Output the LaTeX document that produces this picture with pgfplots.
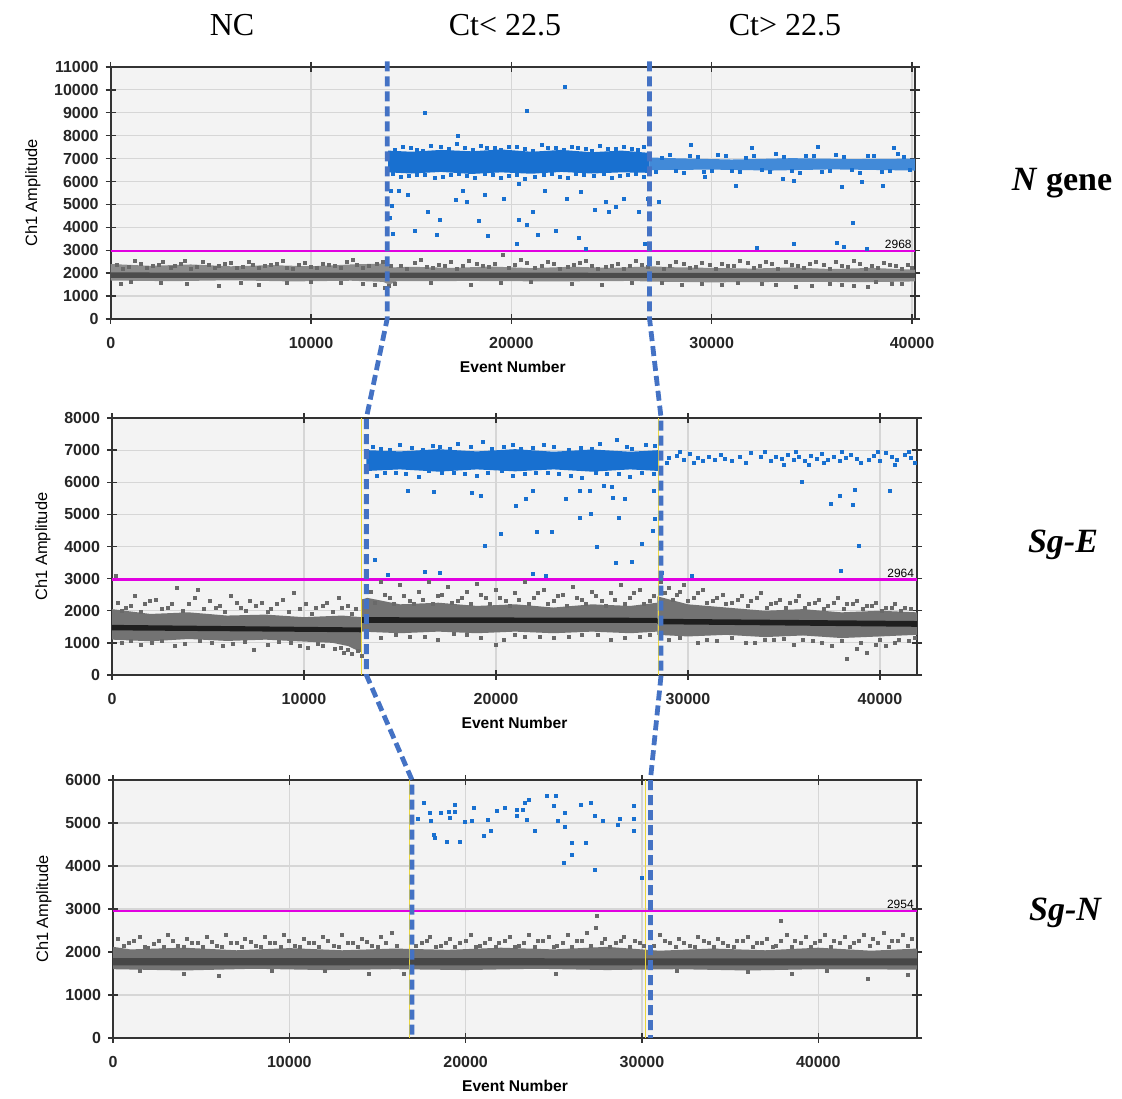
\documentclass[border=0pt]{standalone}
\usepackage{fontspec}
\setmainfont{Liberation Serif}
\newfontfamily\lsans{Liberation Sans}
\usepackage{pgfplots}
\pgfplotsset{compat=1.18}

\definecolor{dropblue}{RGB}{24,112,208}
\definecolor{dropgray}{RGB}{105,105,105}
\definecolor{thr}{RGB}{225,0,225}
\definecolor{cutblue}{RGB}{68,114,196}
\definecolor{bgc}{RGB}{243,243,243}
\definecolor{gridc}{RGB}{214,214,214}
\definecolor{wellc}{RGB}{235,215,60}

\tikzset{thrlab/.style={anchor=south east,inner sep=1pt,font=\lsans\fontsize{6}{7}\selectfont}}
\pgfplotsset{
  ddpcr/.style={
    scale only axis, anchor=south west,
    axis background/.style={fill=bgc},
    grid=major, grid style={gridc,line width=0.6pt},
    axis line style={black!80,line width=0.8pt},
    tick style={black!80,line width=0.7pt},
    major tick length=5pt, tick align=center,
    xmin=0, ymin=0,
    xtick distance=10000, ytick distance=1000,
    scaled ticks=false,
    /pgf/number format/assume math mode=true,
    /pgf/number format/1000 sep={},
    tick label style={font=\lsans\bfseries\fontsize{8}{9}\selectfont,text=black!85},
    xticklabel style={yshift=-3pt},
    xlabel={Event Number}, ylabel={Ch1 Amplitude},
    xlabel style={font=\lsans\bfseries\fontsize{7.8}{9}\selectfont,yshift=0.5pt},
    ylabel style={font=\lsans\fontsize{8.2}{10}\selectfont},
  },
  dots/.style={only marks,mark=square*,mark size=0.75pt,color=#1},
}

\begin{document}
\begin{tikzpicture}
\path (0,0) rectangle (561pt,547.5pt);

% ---------- N gene ----------
\begin{axis}[ddpcr, name=p1, at={(55.35pt,388pt)},
  width=402.15pt, height=126pt, xmax=40150, ymax=11000]
\addplot[draw=none,fill=black!45] coordinates {
  (0,1680) (3000,1650) (6000,1690) (9000,1640) (12000,1670) (13600,1620)
  (13900,1500) (14300,1650) (18000,1660) (22000,1640) (26000,1660) (27000,1630)
  (30000,1600) (34000,1620) (38000,1610) (40150,1640)
  (40150,2150) (38000,2230) (36000,2180) (34000,2250) (32000,2200) (30000,2230)
  (28000,2260) (27000,2300) (25000,2230) (23000,2280) (21000,2220) (19000,2290)
  (17000,2230) (15000,2280) (14000,2250) (13600,2420) (12000,2380) (10000,2300)
  (8000,2350) (6000,2300) (4000,2380) (2000,2320) (0,2400)};
\addplot[draw=none,fill=black!70] coordinates {
  (0,1790) (40150,1790) (40150,2010) (0,2030)};
\addplot[dots=dropgray] coordinates {
  (300,2350) (900,2280) (1500,2420) (2100,2300) (2600,2480) (3200,2330)
  (3700,2550) (4300,2260) (4900,2380) (5400,2300) (6000,2450) (6600,2270)
  (7100,2360) (7700,2300) (8300,2420) (8800,2250) (9400,2340) (10000,2290)
  (10600,2400) (11200,2330) (11800,2480) (12300,2380) (12900,2300) (13300,2420)
  (14500,2320) (15200,2430) (15800,2290) (16400,2380) (17000,2470) (17600,2300)
  (18300,2400) (18900,2260) (19600,2790) (20200,2350) (20800,2440) (21500,2300)
  (22100,2390) (22800,2280) (23400,2430) (24000,2330) (24700,2260) (25300,2420)
  (25900,2310) (26500,2380) (27300,2440) (27900,2330) (28600,2400) (29200,2280)
  (29900,2360) (30500,2420) (31100,2300) (31800,2450) (32400,2330) (33000,2390)
  (33700,2500) (34300,2300) (34900,2420) (35600,2340) (36200,2470) (36800,2290)
  (37400,2400) (38000,2330) (38600,2440) (39200,2300) (39800,2380)
  (600,2200) (1200,2550) (1800,2230) (2400,2380) (3000,2250) (3500,2420)
  (4000,2200) (4600,2500) (5200,2230) (5700,2400) (6300,2210) (6900,2500)
  (7400,2240) (8000,2380) (8600,2520) (9100,2200) (9700,2450) (10300,2220)
  (10900,2350) (11500,2250) (12100,2560) (12600,2230) (13600,2500) (14000,2300)
  (14800,2200) (15500,2560) (16100,2230) (16700,2300) (17300,2200) (17900,2550)
  (18600,2300) (19200,2420) (19900,2210) (20500,2560) (21200,2230) (21800,2500)
  (22400,2200) (23100,2350) (23700,2540) (24300,2200) (25000,2300) (25600,2200)
  (26200,2520) (26800,2260) (27600,2200) (28200,2500) (28900,2220) (29500,2450)
  (30200,2200) (30800,2300) (31400,2520) (32100,2210) (32700,2480) (33300,2200)
  (34000,2350) (34600,2230) (35200,2500) (35900,2200) (36500,2300) (37100,2550)
  (37700,2200) (38300,2250) (38900,2350) (39500,2200) (40000,2250)
  (1000,1600) (5400,1450) (8800,1580) (12600,1520) (13200,1480) (14200,1550)
  (21000,1600) (26000,1580) (29500,1530) (30500,1500) (31300,1560) (33200,1490)
  (34200,1400) (35900,1540) (37100,1450) (38200,1600) (39500,1550)
  (500,1550) (2500,1580) (3800,1520) (6500,1560) (7400,1500) (10000,1600)
  (11500,1560) (13700,1350) (13900,1450) (16000,1560) (18000,1500) (19500,1580)
  (23000,1550) (24500,1500) (27500,1560) (28500,1500) (32500,1530) (35000,1450)
  (36500,1500) (37800,1400) (39000,1520)};
\addplot[draw=none,fill=dropblue] coordinates {
  (13850,6400) (15000,6350) (16500,6420) (18000,6330) (19500,6400) (21000,6340)
  (22500,6420) (24000,6350) (25500,6400) (26900,6380)
  (26900,7250) (25500,7350) (24000,7280) (22500,7380) (21000,7300) (19500,7400)
  (18000,7320) (16500,7380) (15000,7300) (13850,7350)};
\addplot[draw=none,fill=dropblue!82] coordinates {
  (26900,6500) (30000,6520) (33000,6480) (36000,6530) (40150,6480)
  (40150,7000) (37000,6980) (34000,7020) (31000,6960) (28000,7020) (26900,7050)};
\addplot[dots=dropblue] coordinates {
  (14200,7400) (15000,7450) (15600,7350) (16500,7500) (17300,7650) (18100,7380)
  (18800,7450) (19500,7400) (20300,7500) (21100,7350) (21800,7450) (22600,7400)
  (23300,7480) (24000,7350) (24800,7420) (25600,7500) (26300,7380)
  (14600,7520) (15300,7380) (16000,7550) (16900,7420) (17700,7480) (18500,7560)
  (19200,7450) (19900,7520) (20700,7420) (21500,7580) (22200,7460) (23000,7530)
  (23700,7420) (24400,7560) (25200,7440) (26000,7420) (26600,7500)
  (14100,6350) (14900,6250) (15700,6300) (16600,6200) (17400,6350) (18200,6150)
  (19100,6300) (19900,6250) (20700,6100) (21600,6300) (22400,6200) (23200,6350)
  (24100,6250) (25000,6150) (25800,6300) (26600,6200)
  (14500,6200) (15300,6300) (16200,6150) (17000,6280) (17800,6230) (18700,6320)
  (19500,6150) (20300,6280) (21200,6200) (22000,6330) (22800,6180) (23600,6280)
  (24600,6320) (25400,6230) (26200,6340)
  (27500,7050) (28200,6450) (28900,7100) (29600,6400) (30300,7150) (31000,6450)
  (31700,7050) (32500,6500) (33200,7200) (34000,6450) (34700,7100) (35500,6400)
  (36200,7150) (37000,6500) (37800,7100) (38500,6400) (39300,7200) (39900,6500)
  (27200,6420) (27900,7150) (28600,6380) (29300,7080) (30000,6460) (30700,7100)
  (31400,6400) (32100,7120) (32900,6420) (33600,7060) (34400,6380) (35100,7140)
  (35900,6460) (36600,7080) (37400,6380) (38100,7140) (38900,6460) (39600,7080)
  (22660,10140) (15680,9000) (20800,9070) (17340,8010) (28970,7610) (32000,7470)
  (35280,7510) (39100,7470)
  (14000,5600) (14050,4950) (13950,4400) (14100,3700)
  (14400,5570) (14850,5400) (15830,4690) (16270,3690) (15200,3830) (16450,4330)
  (17250,5190) (17600,5610) (17780,5110) (18400,4300) (18850,3610) (18670,5400)
  (19650,5230) (20360,5900) (20360,4330) (20800,4110) (21070,4690) (21340,3690)
  (21690,5570) (22220,3830) (23370,3540) (23730,3050) (22750,5260) (23460,5540)
  (24170,4760) (24710,5110) (24880,4690) (25240,4900) (25600,5260) (26390,4690)
  (26660,3260) (26840,5260) (27370,5110) (31190,5830) (37050,4190) (36520,5760)
  (37500,5970) (38560,5830) (34100,6040) (33570,6110) (29680,6190) (32260,3110)
  (34100,3260) (36250,3330) (36600,3140) (37750,3040) (20270,3260)};
\addplot[thr,line width=1.4pt] coordinates {(0,2968) (40150,2968)};
\node[thrlab] at (axis cs:40100,2968) {2968};
\coordinate (L1t) at (axis cs:13800,11250);
\coordinate (L1b) at (axis cs:13800,0);
\coordinate (R1t) at (axis cs:26900,11250);
\coordinate (R1b) at (axis cs:26900,0);
\end{axis}

% ---------- Sg-E ----------
\begin{axis}[ddpcr, name=p2, at={(56pt,210pt)},
  width=402.5pt, height=128.5pt, xmax=41930, ymax=8000]
\addplot[draw=none,fill=black!55] coordinates {
  (0,1100) (2000,1050) (4000,1120) (6000,1060) (8000,1100) (10000,1040)
  (11500,1000) (12300,900) (13000,700)
  (13000,1800) (12000,1850) (10000,1800) (8000,1880) (6000,1850) (4000,1950)
  (2000,1900) (0,2050)};
\addplot[draw=none,fill=black!55] coordinates {
  (13000,1350) (15000,1300) (17000,1350) (19000,1300) (21000,1350) (23000,1300)
  (25000,1350) (27000,1300) (28400,1350)
  (28400,2250) (27000,2150) (25000,2200) (23000,2100) (21000,2200) (19000,2150)
  (17000,2250) (15000,2200) (13300,2400) (13000,2350)};
\addplot[draw=none,fill=black!55] coordinates {
  (28400,1250) (30000,1200) (32000,1250) (34000,1180) (36000,1230) (38000,1150)
  (40000,1200) (41930,1250)
  (41930,1950) (40000,2000) (38000,1950) (36000,2050) (34000,2000) (32000,2100)
  (30000,2200) (28400,2450)};
\addplot[draw=none,fill=black!88] coordinates {
  (0,1390) (13000,1330) (13000,1480) (0,1560)};
\addplot[draw=none,fill=black!88] coordinates {
  (13000,1620) (28400,1620) (28400,1780) (13000,1800)};
\addplot[draw=none,fill=black!88] coordinates {
  (28400,1580) (41930,1500) (41930,1680) (28400,1750)};
\addplot[dots=dropgray] coordinates {
  (300,2250) (700,2100) (1200,2450) (1700,2200) (2300,2350) (2900,2100)
  (3400,2700) (4000,2200) (4500,2650) (5100,2300) (5600,2150) (6200,2450)
  (6700,2100) (7200,2300) (7800,2250) (8300,2050) (8900,2350) (9500,2550)
  (10100,2200) (10600,2100) (11200,2250) (11800,2400) (12300,2150) (12700,2050)
  (500,2000) (1000,2150) (1500,1950) (2000,2300) (2600,2050) (3100,2200)
  (3700,1980) (4300,2400) (4800,2050) (5400,2100) (5900,1950) (6500,2250)
  (7000,2000) (7500,2150) (8100,1950) (8600,2200) (9200,1950) (9800,2050)
  (10400,1900) (11000,2150) (11500,1950) (12000,2100) (12500,1900)
  (500,1000) (1500,950) (2600,1050) (3800,980) (5200,1000) (5800,900)
  (6900,1020) (7400,780) (8100,950) (9300,1000) (10200,850) (11000,900)
  (11600,800) (12100,700) (12500,650) (12800,750) (13000,600)
  (1000,1050) (2100,1000) (3300,900) (4600,1050) (6300,980) (8700,1040)
  (9800,920) (10700,980) (11900,850) (12300,780)
  (13500,2600) (14000,2900) (14500,2400) (15000,2800) (15500,2300) (16000,2600)
  (16500,2900) (17000,2450) (17500,2750) (18000,2300) (18500,2600) (19000,2850)
  (19500,2400) (20000,2650) (20500,2300) (21000,2550) (21500,2900) (22000,2400)
  (22500,2650) (23000,2300) (23500,2500) (24000,2750) (24500,2350) (25000,2600)
  (25500,2300) (26000,2550) (26500,2800) (27000,2400) (27500,2650) (28000,2300)
  (13700,2250) (14200,2500) (14700,2200) (15200,2450) (15700,2200) (16200,2350)
  (16700,2200) (17200,2500) (17700,2250) (18200,2400) (18700,2200) (19200,2500)
  (19700,2200) (20200,2400) (20700,2150) (21200,2350) (21700,2200) (22200,2550)
  (22700,2200) (23200,2450) (23700,2150) (24200,2400) (24700,2200) (25200,2450)
  (25700,2150) (26200,2350) (26700,2200) (27200,2550) (27700,2200) (28200,2450)
  (14000,1150) (15500,1200) (17000,1100) (18500,1250) (20000,950) (20400,1100)
  (21500,1200) (23000,1150) (24500,1250) (26000,1100) (27500,1200)
  (14800,1250) (16300,1200) (17800,1280) (19200,1150) (21000,1250) (22300,1200)
  (23800,1180) (25300,1260) (26700,1150) (28000,1250)
  (28600,2900) (29000,2700) (29400,2500) (29800,2800) (30300,2400) (30800,2650)
  (31300,2300) (31800,2500) (32300,2250) (32800,2450) (33300,2300) (33800,2550)
  (34300,2200) (34800,2350) (35300,2250) (35800,2450) (36300,2200) (36800,2350)
  (37300,2150) (37800,2400) (38300,2200) (38800,2300) (39300,2150) (39800,2250)
  (40300,2100) (40800,2200) (41300,2100)
  (28800,2550) (29200,2350) (29600,2600) (30000,2300) (30500,2550) (31000,2250)
  (31500,2400) (32000,2200) (32600,2350) (33100,2150) (33600,2400) (34100,2100)
  (34600,2250) (35100,2100) (35600,2300) (36100,2100) (36600,2250) (37100,2050)
  (37600,2250) (38100,2050) (38600,2200) (39100,2050) (39600,2150) (40100,2000)
  (40600,2100) (41100,2000) (41600,2050)
  (29000,1100) (30500,1000) (31500,1050) (33000,1000) (33500,1000) (34500,1100)
  (35500,950) (36500,1050) (37500,900) (38300,500) (38800,800) (39300,700)
  (39800,950) (40300,900) (40800,1000) (41500,1050) (200,3100)
  (29600,1150) (31000,1100) (32300,1150) (34000,1080) (35000,1120) (36000,1100)
  (37000,1000) (38000,1050) (39000,1000) (40000,1080) (41000,1100) (41800,1150)};
\addplot[draw=none,fill=dropblue] coordinates {
  (13250,6350) (15000,6400) (17000,6330) (19000,6400) (21000,6340) (23000,6400)
  (25000,6330) (27000,6400) (28500,6350)
  (28500,7000) (27000,6950) (25000,7020) (23000,6950) (21000,7030) (19000,6960)
  (17000,7030) (15000,6960) (13250,7000)};
\addplot[dots=dropblue] coordinates {
  (14000,7050) (15000,7150) (16200,7000) (17100,7100) (18000,7200) (19300,7260)
  (20400,7100) (21300,7050) (22500,7150) (23800,7000) (25400,7200) (26300,7310)
  (27100,7050) (27800,7150)
  (13600,7100) (14500,7000) (15600,7080) (16700,7120) (17600,7050) (18700,7100)
  (19800,7050) (20900,7150) (21900,7080) (23000,7100) (24400,7080) (25000,7050)
  (26800,7100) (28300,7120)
  (14200,6300) (15300,6250) (16500,6350) (17800,6300) (19000,6200) (20300,6350)
  (21500,6250) (22700,6300) (23900,6200) (25200,6300) (26400,6250) (27600,6300)
  (13800,6200) (14800,6300) (16000,6180) (17200,6280) (18400,6250) (19600,6300)
  (20900,6200) (22100,6280) (23300,6250) (24500,6150) (25800,6250) (27000,6180)
  (28200,6250)
  (28600,6900) (29000,6750) (29400,6820) (29800,6700) (30100,6880) (30500,6760)
  (30800,6650) (31100,6780) (31400,6700) (31900,6730) (32300,6680) (32700,6800)
  (33300,6900) (33800,6780) (34300,6650) (34600,6800) (34900,6720) (35200,6850)
  (35500,6700) (35800,6780) (36100,6650) (36400,6820) (36700,6740) (37000,6880)
  (37300,6700) (37600,6800) (37900,6650) (38200,6760) (38500,6850) (38800,6720)
  (39400,6700) (39700,6820) (40000,6650) (40300,6900) (40600,6780) (40900,6700)
  (41300,6850) (41600,6750) (41800,6600)
  (28900,6600) (29600,6950) (30300,6600) (31700,6850) (33000,6600) (34000,6950)
  (35000,6550) (35600,6950) (36300,6550) (37100,6600) (38000,6950) (39000,6600)
  (39900,6950) (40800,6550) (41500,6950)
  (15410,5740) (16750,5700) (19240,5570) (18740,5670) (21040,5260) (21540,5490)
  (21940,5740) (23630,5490) (24390,5740) (24870,5740) (24390,4880) (24930,5010)
  (25630,5880) (26030,5850) (26070,5520) (26390,4900) (26730,5470) (28260,4850)
  (28180,4490) (28220,5740) (20240,4390) (22140,4460) (22890,4460) (19400,4020)
  (25270,3980) (27620,4080) (26270,3490) (27070,3520) (13710,3590) (16290,3200)
  (17090,3180) (21940,3140) (22590,3090) (14350,3110) (28620,3190) (30220,3090)
  (35910,6010) (37450,5330) (37900,5590) (38600,5290) (38700,5770) (40500,5720)
  (38900,4020) (37960,3250)};
\addplot[wellc,line width=0.6pt] coordinates {(13000,0) (13000,8000)};
\addplot[wellc,line width=0.6pt] coordinates {(28450,0) (28450,8000)};
\addplot[thr,line width=1.4pt] coordinates {(0,2964) (41930,2964)};
\node[thrlab] at (axis cs:41900,2964) {2964};
\coordinate (L2t) at (axis cs:13250,8000);
\coordinate (L2b) at (axis cs:13250,0);
\coordinate (R2t) at (axis cs:28600,8000);
\coordinate (R2b) at (axis cs:28600,0);
\end{axis}

% ---------- Sg-N ----------
\begin{axis}[ddpcr, name=p3, at={(56.5pt,28.5pt)},
  width=402pt, height=129pt, xmax=45600, ymax=6000]
\addplot[draw=none,fill=black!55] coordinates {
  (0,1600) (4000,1570) (8000,1610) (12000,1580) (16000,1600) (20000,1580)
  (24000,1610) (28000,1580) (32000,1600) (36000,1570) (40000,1600) (45600,1590)
  (45600,2080) (43000,2030) (40000,2100) (37000,2040) (34000,2080) (31000,2030)
  (28000,2120) (25000,2060) (22000,2100) (19000,2050) (16000,2080) (13000,2040)
  (10000,2090) (7000,2040) (4000,2100) (1000,2060) (0,2120)};
\addplot[draw=none,fill=black!72] coordinates {
  (0,1690) (45600,1690) (45600,1850) (0,1860)};
\addplot[dots=dropgray] coordinates {
  (300,2300) (900,2200) (1500,2350) (2000,2100) (2600,2250) (3100,2400)
  (3700,2150) (4200,2300) (4800,2200) (5300,2350) (5900,2150) (6400,2400)
  (7000,2200) (7500,2300) (8100,2150) (8600,2350) (9200,2200) (9700,2400)
  (10300,2150) (10800,2300) (11400,2200) (11900,2350) (12500,2150) (13000,2400)
  (13600,2200) (14100,2300) (14700,2150) (15200,2350) (15800,2450) (17500,2200)
  (18000,2350) (18600,2150) (19100,2300) (19700,2200) (20300,2400) (20800,2150)
  (21400,2300) (21900,2200) (22500,2350) (23000,2150) (23600,2400) (24100,2250)
  (24700,2350) (25200,2150) (25800,2400) (26300,2250) (26900,2450) (27400,2550)
  (27900,2300) (28500,2200) (29000,2350) (29600,2250) (30100,2150) (31000,2400)
  (31600,2200) (32100,2300) (32700,2150) (33200,2350) (33800,2200) (34300,2300)
  (34900,2150) (35400,2250) (36000,2350) (36500,2200) (37100,2300) (37600,2150)
  (38200,2400) (38700,2250) (39300,2350) (39800,2200) (40400,2400) (40900,2250)
  (41500,2350) (42000,2200) (42600,2400) (43100,2300) (43700,2450) (44200,2250)
  (44800,2400) (45300,2300) (37870,2730) (27440,2840)
  (600,2150) (1200,2250) (1800,2120) (2300,2180) (2900,2130) (3400,2250)
  (4000,2120) (4500,2200) (5100,2120) (5600,2230) (6200,2110) (6700,2200)
  (7300,2130) (7800,2240) (8400,2110) (8900,2200) (9500,2120) (10000,2250)
  (10600,2110) (11100,2200) (11700,2130) (12200,2250) (12800,2120) (13300,2200)
  (13900,2120) (14400,2230) (15000,2110) (15500,2200) (16100,2150) (17200,2150)
  (17800,2250) (18300,2120) (18900,2200) (19400,2130) (20000,2250) (20600,2120)
  (21100,2200) (21700,2120) (22200,2250) (22800,2110) (23300,2200) (23900,2130)
  (24400,2250) (25000,2120) (25500,2200) (26000,2130) (26600,2250) (27100,2150)
  (27700,2200) (28200,2120) (28800,2250) (29300,2130) (29900,2200) (30700,2150)
  (31300,2250) (31900,2120) (32400,2200) (33000,2130) (33500,2250) (34100,2120)
  (34600,2200) (35200,2130) (35700,2250) (36300,2120) (36800,2200) (37400,2130)
  (37900,2250) (38500,2120) (39000,2200) (39600,2130) (40100,2250) (40700,2120)
  (41200,2200) (41800,2130) (42300,2250) (42900,2150) (43400,2200) (44000,2130)
  (44500,2250) (45100,2150)
  (1500,1550) (4000,1500) (6000,1450) (9000,1550) (12000,1560) (14500,1500)
  (16500,1480) (25100,1500) (32000,1550) (36000,1530) (38500,1500) (40500,1560)
  (42840,1380) (45070,1460)};
\addplot[dots=dropblue] coordinates {
  (17300,5090) (17650,5470) (17970,5230) (18010,5040) (18180,4730) (18260,4650)
  (18580,5230) (18930,4570) (19130,5120) (19030,5250) (19390,5250) (19390,5410)
  (19680,4550) (19960,5020) (20340,5040) (20490,5350) (21010,4700) (21260,5080)
  (21460,4810) (21760,5270) (22230,5350) (22880,5310) (22920,5160) (23240,5310)
  (23380,5470) (23590,5530) (23480,5080) (23930,4810) (24600,5620) (25110,5620)
  (25010,5390) (25210,5040) (25610,5230) (25610,4920) (26020,4530) (26020,4260)
  (25550,4070) (26520,5430) (27090,5470) (26830,4530) (27330,5170) (27780,5040)
  (27330,3910) (28610,4960) (28750,5090) (29560,5390) (29520,5090) (29520,4810)
  (30000,3720)};
\addplot[wellc,line width=0.6pt] coordinates {(16800,0) (16800,6000)};
\addplot[wellc,line width=0.6pt] coordinates {(30200,0) (30200,6000)};
\addplot[thr,line width=1.4pt] coordinates {(0,2954) (45600,2954)};
\node[thrlab] at (axis cs:45550,2954) {2954};
\coordinate (L3t) at (axis cs:16960,6000);
\coordinate (L3b) at (axis cs:16960,0);
\coordinate (R3t) at (axis cs:30480,6000);
\coordinate (R3b) at (axis cs:30480,0);
\end{axis}

% well boundaries carried through the three panels
\draw[cutblue,line width=2.4pt,dash pattern=on 5pt off 2.5pt]
  (L1t) -- (L1b) -- (L2t) -- (L2b) -- (L3t) -- (L3b);
\draw[cutblue,line width=2.4pt,dash pattern=on 5pt off 2.5pt]
  (R1t) -- (R1b) -- (R2t) -- (R2b) -- (R3t) -- (R3b);

% column and row titles
\node[font=\fontsize{16}{18}\selectfont] at (116pt,535pt) {NC};
\node[font=\fontsize{16}{18}\selectfont] at (252.5pt,535pt) {Ct< 22.5};
\node[font=\fontsize{16}{18}\selectfont] at (392.5pt,535pt) {Ct> 22.5};
\node[font=\bfseries\fontsize{17}{19}\selectfont] at (531pt,456pt) {\textit{N} gene};
\node[font=\bfseries\itshape\fontsize{17}{19}\selectfont] at (531.5pt,275pt) {Sg-E};
\node[font=\bfseries\itshape\fontsize{17}{19}\selectfont] at (532.5pt,91pt) {Sg-N};
\end{tikzpicture}
\end{document}
